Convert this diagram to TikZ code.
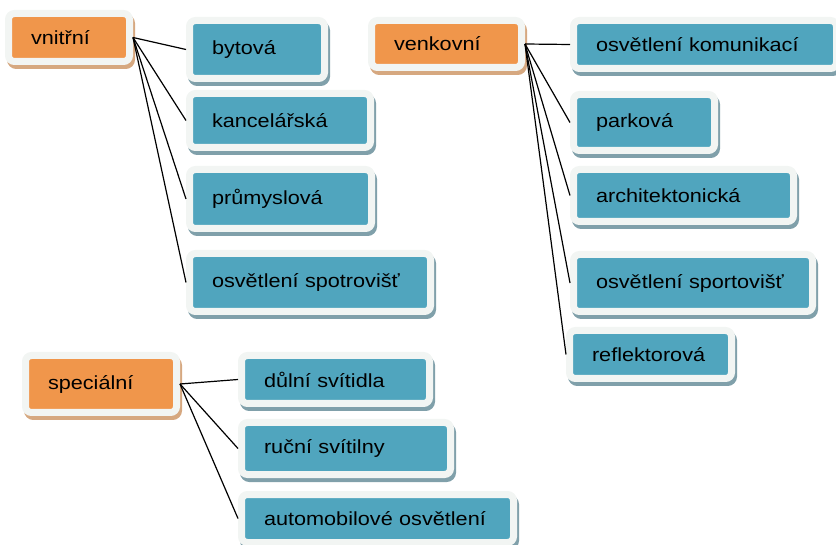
\documentclass[tikz,border=0pt]{standalone}
\usepackage{fontspec}
\setmainfont{Liberation Sans}[FakeStretch=1.14]
\usetikzlibrary{positioning}
\definecolor{catfill}{RGB}{240,150,75}
\definecolor{catshade}{RGB}{214,168,128}
\definecolor{itemfill}{RGB}{80,165,190}
\definecolor{itemshade}{RGB}{128,160,170}
\definecolor{frame}{RGB}{242,245,243}

\begin{document}
\begin{tikzpicture}[x=1pt, y=-1pt,
  every node/.style={font=\fontsize{19}{22}\selectfont},
  box/.style={draw=frame, line width=7pt, rounded corners=6pt, anchor=west,
    align=left, inner xsep=22.5pt, inner ysep=2pt},
  cat/.style={box, fill=catfill,
    preaction={draw=catshade, fill=catshade, line width=7pt,
      transform canvas={shift={(2pt,-4pt)}}}},
  item/.style={box, fill=itemfill,
    preaction={draw=itemshade, fill=itemshade, line width=7pt,
      transform canvas={shift={(2pt,-4pt)}}}},
  conn/.style={line width=1.2pt, black}]
\useasboundingbox (0,0) rectangle (836,545);

% vnitrni
\node[cat, text width=76pt, minimum height=48pt] (vnitrni) at (5,37.5) {vnitřní};
\node[item, text width=90pt, minimum height=58pt] (bytova) at (186,49.5) {bytová};
\node[item, text width=136pt, minimum height=54pt] (kancelarska) at (186,120.5) {kancelářská};
\node[item, text width=137pt, minimum height=59pt] (prumyslova) at (186,199) {průmyslová};
\node[item, text width=196pt, minimum height=58pt] (spotrovist) at (186,282.5) {osvětlení spotrovišť};

% venkovni
\node[cat, text width=105pt, minimum height=47pt] (venkovni) at (368,44) {venkovní};
\node[item, text width=218pt, minimum height=48pt] (komunikace) at (570,44.5) {osvětlení komunikací};
\node[item, text width=96pt, minimum height=56pt] (parkova) at (570,122.5) {parková};
\node[item, text width=175pt, minimum height=52pt] (architekt) at (570,195.5) {architektonická};
\node[item, text width=194pt, minimum height=57pt] (sportovist) at (570,283) {osvětlení sportovišť};
\node[item, text width=117pt, minimum height=48pt] (reflektor) at (566,354.5) {reflektorová};

% specialni
\node[cat, text width=106pt, minimum height=57pt] (specialni) at (22,384) {speciální};
\node[item, text width=143pt, minimum height=48pt] (dulni) at (238,379.5) {důlní svítidla};
\node[item, text width=164pt, minimum height=52pt] (rucni) at (238,448.5) {ruční svítilny};
\node[item, text width=227pt, minimum height=48pt] (automobil) at (238,518.5) {automobilové osvětlení};

\foreach \n in {bytova,kancelarska,prumyslova,spotrovist}
  \draw[conn] (vnitrni.east) -- (\n.west);
\foreach \n in {komunikace,parkova,architekt,sportovist,reflektor}
  \draw[conn] (venkovni.east) -- (\n.west);
\foreach \n in {dulni,rucni,automobil}
  \draw[conn] (specialni.east) -- (\n.west);
\end{tikzpicture}
\end{document}
